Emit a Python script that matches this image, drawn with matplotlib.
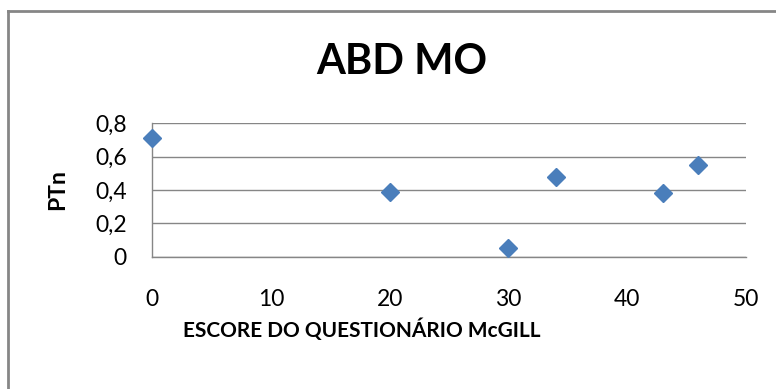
import matplotlib
matplotlib.use("Agg")
import matplotlib.pyplot as plt
from matplotlib.ticker import FixedLocator, FixedFormatter
from matplotlib.lines import Line2D

plt.rcParams['font.family'] = ['Lato', 'DejaVu Sans']

title = "ABD MO"
x_label = "ESCORE DO QUESTIONÁRIO McGILL"
y_label = "PTn"
score = [0, 20, 30, 34, 43, 46]
ptn = [0.71, 0.39, 0.055, 0.475, 0.38, 0.55]
x_ticks = [0, 10, 20, 30, 40, 50]
y_ticks = [0, 0.2, 0.4, 0.6, 0.8]
y_tick_labels = ["0", "0,2", "0,4", "0,6", "0,8"]

W, H = 776, 389
fig = plt.figure(figsize=(W / 100, H / 100), dpi=100)
gray = "#868686"

# outer chart border (top and left visible)
fig.add_artist(Line2D([8 / W, 8 / W], [0, 1 - 11 / H], transform=fig.transFigure, color=gray, lw=2))
fig.add_artist(Line2D([8 / W, 1], [1 - 11 / H, 1 - 11 / H], transform=fig.transFigure, color=gray, lw=2))

left, right, top, bottom = 152, 746, 123.3, 256.7
ax = fig.add_axes([left / W, 1 - bottom / H, (right - left) / W, (bottom - top) / H])
ax.set_xlim(0, 50)
ax.set_ylim(0, 0.8)
ax.yaxis.set_major_locator(FixedLocator(y_ticks))
ax.yaxis.set_major_formatter(FixedFormatter(y_tick_labels))
ax.xaxis.set_major_locator(FixedLocator(x_ticks))
ax.grid(axis='y', color=gray, lw=1)
ax.set_axisbelow(True)
for s in ['top', 'right']:
    ax.spines[s].set_visible(False)
for s in ['left', 'bottom']:
    ax.spines[s].set_color(gray)
    ax.spines[s].set_linewidth(1)
ax.tick_params(axis='both', length=0, labelsize=16.5, colors='#000000')
ax.tick_params(axis='x', pad=23)
ax.tick_params(axis='y', pad=18)

ax.plot(score, ptn, linestyle='none', marker='D', markersize=9.5,
        color='#4A7EBB', markeredgecolor='#4A7EBB', clip_on=False, zorder=3)

fig.text(402 / W, 1 - 62 / H, title, ha='center', va='center', fontsize=30, fontweight='bold')
fig.text(362 / W, 1 - 330 / H, x_label, ha='center', va='center', fontsize=15, fontweight='bold')
fig.text(58 / W, 1 - 190 / H, y_label, ha='center', va='center', fontsize=16.5, fontweight='bold', rotation=90)

fig.savefig("out.png", dpi=100)
